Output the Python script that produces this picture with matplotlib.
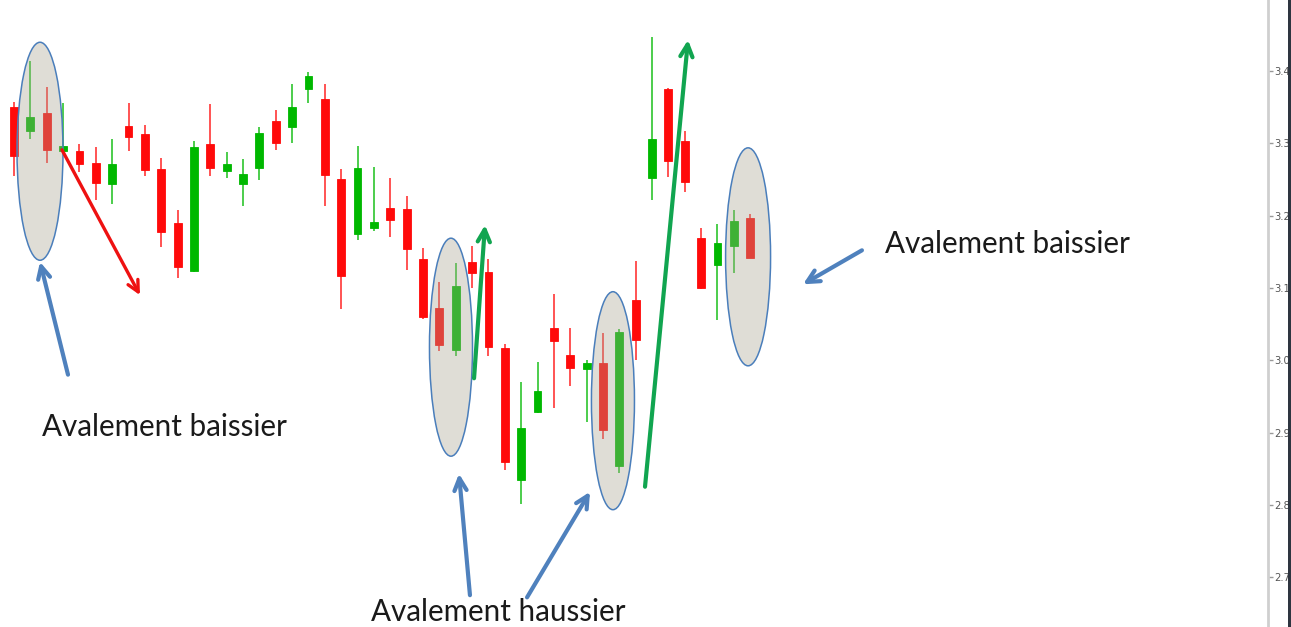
import matplotlib
matplotlib.use("Agg")
import matplotlib.pyplot as plt
from matplotlib.patches import Ellipse, Rectangle

# ---- data ----
opens = [3.350, 3.317, 3.342, 3.289, 3.289, 3.273, 3.244, 3.324, 3.313, 3.264,
         3.190, 3.123, 3.299, 3.262, 3.244, 3.266, 3.331, 3.323, 3.375, 3.361,
         3.251, 3.175, 3.183, 3.211, 3.209, 3.140, 3.072, 3.014, 3.136, 3.122,
         3.017, 2.834, 2.928, 3.045, 3.007, 2.988, 2.996, 2.854, 3.083, 3.252,
         3.375, 3.303, 3.169, 3.132, 3.158, 3.197]
highs = [3.357, 3.414, 3.378, 3.356, 3.299, 3.295, 3.306, 3.356, 3.325, 3.280,
         3.208, 3.303, 3.354, 3.288, 3.278, 3.323, 3.346, 3.382, 3.399, 3.382,
         3.264, 3.296, 3.267, 3.252, 3.227, 3.155, 3.108, 3.134, 3.158, 3.140,
         3.022, 2.970, 2.998, 3.092, 3.045, 3.000, 3.038, 3.043, 3.137, 3.447,
         3.376, 3.317, 3.183, 3.188, 3.208, 3.202]
lows = [3.255, 3.306, 3.273, 3.288, 3.260, 3.222, 3.216, 3.289, 3.255, 3.157,
        3.114, 3.122, 3.255, 3.252, 3.213, 3.249, 3.291, 3.300, 3.356, 3.213,
        3.071, 3.166, 3.179, 3.170, 3.125, 3.057, 3.013, 3.006, 3.100, 3.006,
        2.848, 2.801, 2.927, 2.934, 2.964, 2.915, 2.891, 2.844, 3.000, 3.222,
        3.253, 3.233, 3.098, 3.056, 3.121, 3.141]
closes = [3.282, 3.336, 3.291, 3.296, 3.271, 3.245, 3.271, 3.309, 3.263, 3.177,
          3.129, 3.295, 3.266, 3.271, 3.258, 3.314, 3.300, 3.350, 3.393, 3.256,
          3.116, 3.266, 3.191, 3.194, 3.154, 3.060, 3.021, 3.103, 3.121, 3.018,
          2.859, 2.906, 2.957, 3.027, 2.989, 2.996, 2.903, 3.039, 3.028, 3.306,
          3.276, 3.246, 3.100, 3.162, 3.193, 3.141]
yticks = [2.7, 2.8, 2.9, 3.0, 3.1, 3.2, 3.3, 3.4]
ytick_labels = ["2.7", "2.8", "2.9", "3.0", "3.1", "3.2", "3.3", "3.4"]

labels = ["Avalement baissier", "Avalement haussier", "Avalement baissier"]

# ---- figure ----
W, H = 1291, 627
fig = plt.figure(figsize=(W / 100, H / 100), dpi=100)
fig.patch.set_facecolor("white")
ax = fig.add_axes([0, 0, 1268 / W, 1])
ax.set_xlim(-0.856, 76.65)
ax.set_ylim(2.631, 3.4982)

RED = "#ff0a0a"
GREEN = "#00b800"
body_w = 0.48

for i, (o, h, l, c) in enumerate(zip(opens, highs, lows, closes)):
    col = GREEN if c >= o else RED
    ax.vlines(i, l, h, color=col, lw=1.4, alpha=0.7, zorder=2)
    lo, hi = min(o, c), max(o, c)
    ax.add_patch(Rectangle((i - body_w / 2, lo), body_w, max(hi - lo, 0.006),
                           facecolor=col, edgecolor=col, lw=0.6, zorder=2.5))

# ---- ellipses (engulfing patterns) ----
ellipses = [(1.59, 3.289, 2.81), (26.71, 3.018, 2.63), (36.61, 2.944, 2.63), (44.87, 3.143, 2.75)]
for cx, cy, w in ellipses:
    ax.add_patch(Ellipse((cx, cy), w, 0.3015, facecolor=(0.667, 0.647, 0.569, 0.37),
                         edgecolor="#4a7ebb", lw=1.1, zorder=3))

# ---- arrows ----
BLUE = "#4f81bd"
def arrow(x0, y0, x1, y1, color, lw=3.0, ms=22):
    ax.annotate("", xy=(x1, y1), xytext=(x0, y0),
                arrowprops=dict(arrowstyle="->", color=color, lw=lw,
                                mutation_scale=ms, shrinkA=0, shrinkB=0,
                                capstyle="round", joinstyle="round"),
                zorder=4)

arrow(3.30, 2.980, 1.59, 3.136, BLUE)
arrow(2.93, 3.291, 7.70, 3.090, "#ee1111", lw=2.4, ms=20)
arrow(28.12, 2.975, 28.79, 3.187, "#11a550", lw=3.0)
arrow(27.87, 2.675, 27.20, 2.843, BLUE)
arrow(31.36, 2.672, 35.21, 2.818, BLUE)
arrow(38.57, 2.825, 41.20, 3.443, "#11a550", lw=3.0)
arrow(51.83, 3.152, 48.23, 3.105, BLUE)

# ---- texts ----
tkw = dict(fontsize=21.3, family=["Lato", "DejaVu Sans"], color="#1a1a1a", va="center", ha="left", zorder=5)
ax.text(1.71, 2.907, labels[0], **tkw)
ax.text(21.82, 2.652, labels[1], **tkw)
ax.text(53.24, 3.161, labels[2], **tkw)

# ---- right axis ----
for s in ["left", "top", "bottom"]:
    ax.spines[s].set_visible(False)
ax.spines["right"].set_color("#cfcfcf")
ax.spines["right"].set_linewidth(2)
ax.set_xticks([])
ax.yaxis.tick_right()
ax.set_yticks(yticks)
ax.set_yticklabels(ytick_labels)
ax.tick_params(axis="y", direction="out", length=3.5, width=1, color="#999999",
               labelsize=7.2, labelcolor="#555555", pad=0.8)

# dark right border
fig.add_artist(Rectangle((1288 / W, 0), 3 / W, 1, transform=fig.transFigure,
                         facecolor="#2e3540", edgecolor="none", zorder=10))

fig.savefig("out.png", dpi=100)
